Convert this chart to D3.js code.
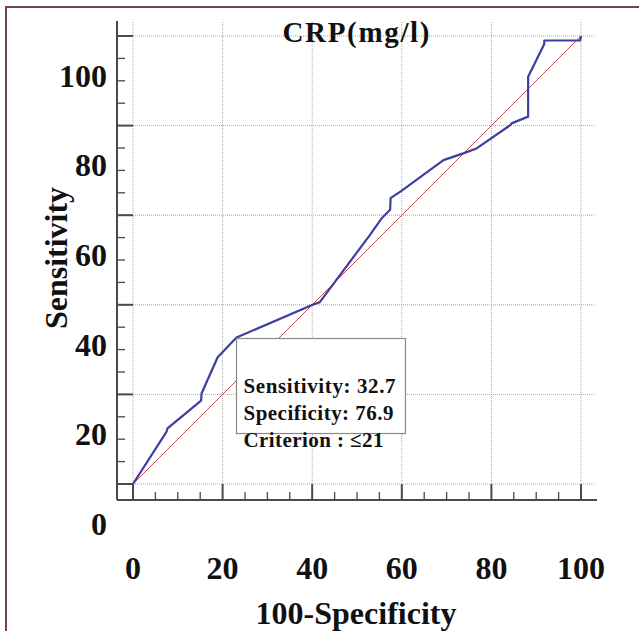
<!DOCTYPE html>
<html>
<head>
<meta charset="utf-8">
<script src="https://cdn.jsdelivr.net/npm/d3@7/dist/d3.min.js"></script>
<style>
html,body{margin:0;padding:0;background:#fff;}
svg{display:block;}
text{font-family:"Liberation Serif","Times New Roman",serif;font-weight:bold;fill:#111;}
</style>
</head>
<body>
<svg id="chart" width="639" height="631"></svg>
<script>
// ---- data ----
const title = "CRP(mg/l)";
const xTitle = "100-Specificity";
const yTitle = "Sensitivity";
const xTicks = [0, 20, 40, 60, 80, 100];
const yTicks = [0, 20, 40, 60, 80, 100];
const minorStep = 5;
// ROC curve: 100-Specificity (x) vs Sensitivity (y)
const fpr = [0, 7.5, 7.7, 15.2, 15.3, 18.9, 23.1, 40.1, 41.7, 52.9, 55.5, 57.4, 57.5, 60.0, 69.3, 73.7, 76.7, 84.2, 84.5, 88.2, 88.2, 91.8, 91.8, 99.8, 100];
const tpr = [0, 11.7, 12.4, 18.6, 20.2, 28.3, 32.7, 40.0, 40.6, 55.6, 59.3, 61.2, 63.8, 65.5, 72.3, 73.8, 74.9, 80.1, 80.5, 82.0, 90.9, 98.2, 99.0, 99.0, 100];
const diagX = [0, 100];
const diagY = [0, 100];
const criterionPoint = [23.1, 32.7];
const boxLines = ["Sensitivity: 32.7", "Specificity: 76.9", "Criterion : \u226421"];

// ---- layout ----
const svg = d3.select("#chart");
const x = d3.scaleLinear().domain([0, 100]).range([133, 581]);
const y = d3.scaleLinear().domain([0, 100]).range([484, 36]);
const off = 16; // axis offset from data origin
const axisColor = "#4a4a4a";
const gridColor = "#a8a8a8";

// frame
svg.append("rect").attr("x", 6).attr("y", 7).attr("width", 800).attr("height", 800)
  .attr("fill", "none").attr("stroke", "#7a4343").attr("stroke-width", 2);

// grid
const g = svg.append("g");
yTicks.forEach(v => {
  g.append("line").attr("x1", x(0) - off).attr("x2", x(100) + 14)
    .attr("y1", y(v)).attr("y2", y(v))
    .attr("stroke", gridColor).attr("stroke-width", 1).attr("stroke-dasharray", "1,1");
});
xTicks.forEach(v => {
  g.append("line").attr("x1", x(v)).attr("x2", x(v))
    .attr("y1", y(100) - 14).attr("y2", y(0) + off)
    .attr("stroke", gridColor).attr("stroke-width", 1).attr("stroke-dasharray", "1,1");
});

// axes lines
const axX = x(0) - off, axY = y(0) + off;
svg.append("line").attr("x1", axX).attr("x2", axX).attr("y1", y(100) - 15).attr("y2", axY)
  .attr("stroke", axisColor).attr("stroke-width", 2);
svg.append("line").attr("x1", axX).attr("x2", x(100) + 16).attr("y1", axY).attr("y2", axY)
  .attr("stroke", axisColor).attr("stroke-width", 2);

// ticks
const minors = d3.range(0, 100 + 0.001, minorStep);
minors.forEach(v => {
  const major = v % 20 === 0;
  const len = major ? off : 8;
  svg.append("line").attr("x1", axX).attr("x2", axX + len).attr("y1", y(v)).attr("y2", y(v))
    .attr("stroke", axisColor).attr("stroke-width", major ? 2 : 1.3);
  svg.append("line").attr("x1", x(v)).attr("x2", x(v)).attr("y1", axY).attr("y2", axY - len)
    .attr("stroke", axisColor).attr("stroke-width", major ? 2 : 1.3);
});

// tick labels
yTicks.forEach(v => {
  svg.append("text").attr("x", 107).attr("y", y(v - 10) + 6)
    .attr("text-anchor", "end").attr("font-size", 32).text(v);
});
xTicks.forEach(v => {
  svg.append("text").attr("x", x(v)).attr("y", 579)
    .attr("text-anchor", "middle").attr("font-size", 32).text(v);
});

// diagonal reference
const line = d3.line().x(d => x(d[0])).y(d => y(d[1]));
svg.append("path").datum(diagX.map((d, i) => [d, diagY[i]]))
  .attr("d", line).attr("fill", "none").attr("stroke", "#c0504d").attr("stroke-width", 1);

// ROC curve
svg.append("path").datum(fpr.map((d, i) => [d, tpr[i]]))
  .attr("d", line).attr("fill", "none").attr("stroke", "#3c3fa0").attr("stroke-width", 2.2)
  .attr("stroke-linejoin", "round");

// annotation box
const bx = x(criterionPoint[0]), by = y(criterionPoint[1]) + 1;
svg.append("rect").attr("x", bx).attr("y", by).attr("width", 169).attr("height", 95)
  .attr("fill", "#fff").attr("stroke", "#8a8a8a").attr("stroke-width", 1.2);
const lens = [152, 150, 140];
boxLines.forEach((t, i) => {
  svg.append("text").attr("x", bx + 7).attr("y", by + 54 + i * 27)
    .attr("font-size", 21).attr("textLength", lens[i]).attr("lengthAdjust", "spacing").text(t);
});

// titles
svg.append("text").attr("x", 356).attr("y", 42).attr("text-anchor", "middle")
  .attr("font-size", 29).attr("textLength", 147).attr("lengthAdjust", "spacing").text(title);
svg.append("text").attr("transform", "translate(67,258) rotate(-90)").attr("text-anchor", "middle")
  .attr("font-size", 32).text(yTitle);
svg.append("text").attr("x", 356).attr("y", 624).attr("text-anchor", "middle")
  .attr("font-size", 32).text(xTitle);
</script>
</body>
</html>
